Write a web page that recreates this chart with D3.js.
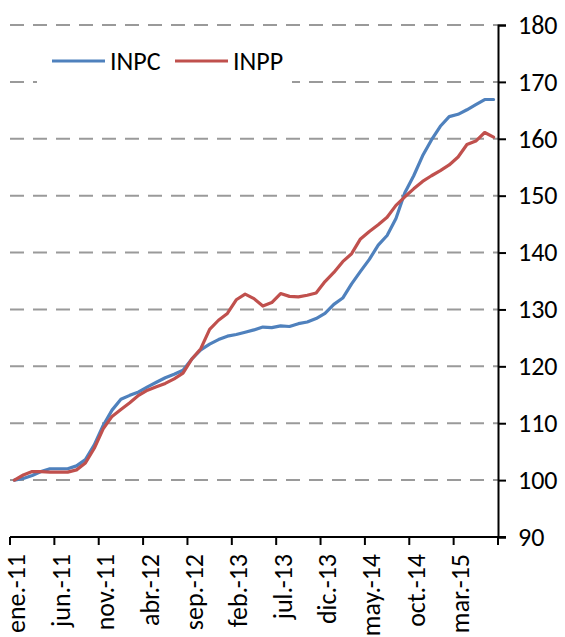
<!DOCTYPE html>
<html>
<head>
<meta charset="utf-8">
<script src="https://cdn.jsdelivr.net/npm/d3@7"></script>
<style>
  body { margin: 0; background: #fff; }
  text { font-family: Carlito, Calibri, Lato, sans-serif; fill: #000; }
</style>
</head>
<body>
<div id="chart"></div>
<script>
var monthNames = ["ene.", "feb.", "mar.", "abr.", "may.", "jun.", "jul.", "ago.", "sep.", "oct.", "nov.", "dic."];
var years = ["11", "12", "13", "14", "15"];

// ene.-11 ... jul.-15
var categories = [];
years.forEach(function(yr) {
  monthNames.forEach(function(m) { categories.push(m + "-" + yr); });
});
categories = categories.slice(0, 55);

var inpc = [100.0, 100.3, 100.8, 101.5, 102.0, 102.0, 102.0, 102.5, 103.6, 106.2,
            109.6, 112.3, 114.2, 114.9, 115.5, 116.4, 117.2, 118.0, 118.6, 119.3,
            121.3, 122.9, 123.9, 124.7, 125.3, 125.6, 126.0, 126.4, 126.9, 126.8,
            127.1, 127.0, 127.5, 127.8, 128.4, 129.3, 130.9, 132.0, 134.5, 136.7,
            138.8, 141.3, 143.0, 146.0, 150.5, 153.5, 157.0, 159.8, 162.2, 163.9,
            164.3, 165.1, 166.0, 166.9, 166.9];

var inpp = [100.0, 100.9, 101.5, 101.5, 101.4, 101.4, 101.4, 101.8, 103.0, 105.6,
            109.0, 111.2, 112.4, 113.6, 114.9, 115.8, 116.4, 117.0, 117.8, 118.8,
            121.3, 123.1, 126.5, 128.1, 129.3, 131.7, 132.7, 131.9, 130.6, 131.2,
            132.8, 132.3, 132.2, 132.5, 132.9, 134.9, 136.5, 138.4, 139.8, 142.4,
            143.7, 144.9, 146.2, 148.3, 149.8, 151.2, 152.5, 153.5, 154.4, 155.4,
            156.8, 159.0, 159.6, 161.1, 160.3];

var yTicks = [90, 100, 110, 120, 130, 140, 150, 160, 170, 180];

var seriesNames = ["INPC", "INPP"];
var colors = ["#4F81BD", "#C0504D"];

var margin = {top: 25, right: 67, bottom: 100, left: 10},
    width = 565 - margin.left - margin.right,
    height = 637 - margin.top - margin.bottom;

var canvas = d3.select("#chart")
  .append("svg")
  .attr("width", 565)
  .attr("height", 637)
  .append("g")
  .attr("transform", "translate(" + margin.left + "," + margin.top + ")");

var x = d3.scaleBand()
  .domain(categories)
  .range([0, width])
  .paddingInner(0)
  .paddingOuter(0);

var y = d3.scaleLinear()
  .domain([90, 180])
  .range([height, 0]);

// grid
canvas.append("g")
  .selectAll("line")
  .data(yTicks.filter(function(d) { return d > 90; }))
  .enter()
  .append("line")
    .attr("x1", 0)
    .attr("x2", width)
    .attr("y1", function(d) { return y(d); })
    .attr("y2", function(d) { return y(d); })
    .attr("stroke", "#9a9a9a")
    .attr("stroke-width", 2)
    .attr("stroke-dasharray", "14,9");

// right axis
var yAxis = canvas.append("g")
  .attr("transform", "translate(" + width + ",0)")
  .call(d3.axisRight(y).tickValues(yTicks).tickSize(8).tickPadding(12));
yAxis.select(".domain").attr("stroke", "#000").attr("stroke-width", 2);
yAxis.selectAll(".tick line").attr("stroke", "#000").attr("stroke-width", 2);
yAxis.selectAll("text")
  .style("font-size", "26px")
  .style("font-family", "Carlito, Calibri, Lato, sans-serif")
  .attr("fill", "#000");

// bottom axis, ticks at category boundaries every 5
var bounds = d3.range(0, categories.length + 1, 5);
canvas.append("line")
  .attr("x1", 0).attr("x2", width + 8)
  .attr("y1", height).attr("y2", height)
  .attr("stroke", "#000").attr("stroke-width", 2);
canvas.append("g")
  .selectAll("line")
  .data(bounds)
  .enter()
  .append("line")
    .attr("x1", function(i) { return i * x.bandwidth(); })
    .attr("x2", function(i) { return i * x.bandwidth(); })
    .attr("y1", height)
    .attr("y2", height + 8)
    .attr("stroke", "#000")
    .attr("stroke-width", 2);

canvas.append("g")
  .selectAll("text")
  .data(categories.filter(function(d, i) { return i % 5 == 0; }))
  .enter()
  .append("text")
    .attr("transform", function(d) {
      return "translate(" + (x(d) + x.bandwidth() / 2 + 11) + "," + (height + 17) + ")rotate(-90)";
    })
    .attr("text-anchor", "end")
    .style("font-size", "26px")
    .text(function(d) { return d; });

// lines
var line = d3.line()
  .x(function(d, i) { return x(categories[i]) + x.bandwidth() / 2; })
  .y(function(d) { return y(d); });

[inpc, inpp].forEach(function(s, k) {
  canvas.append("path")
    .datum(s)
    .attr("fill", "none")
    .attr("stroke", colors[k])
    .attr("stroke-width", 3.2)
    .attr("stroke-linejoin", "round")
    .attr("stroke-linecap", "round")
    .attr("d", line);
});

// legend
canvas.append("rect")
  .attr("x", 27).attr("y", 15)
  .attr("width", 255).attr("height", 45)
  .attr("fill", "#fff");

var legend = canvas.append("g")
  .selectAll("g")
  .data(seriesNames)
  .enter()
  .append("g")
    .attr("transform", function(d, i) { return "translate(" + (42 + i * 123) + ",36)"; });
legend.append("line")
  .attr("x1", 0).attr("x2", 53)
  .attr("stroke", function(d, i) { return colors[i]; })
  .attr("stroke-width", 3.2);
legend.append("text")
  .attr("x", 58)
  .attr("dy", "0.35em")
  .style("font-size", "26px")
  .text(function(d) { return d; });
</script>
</body>
</html>
